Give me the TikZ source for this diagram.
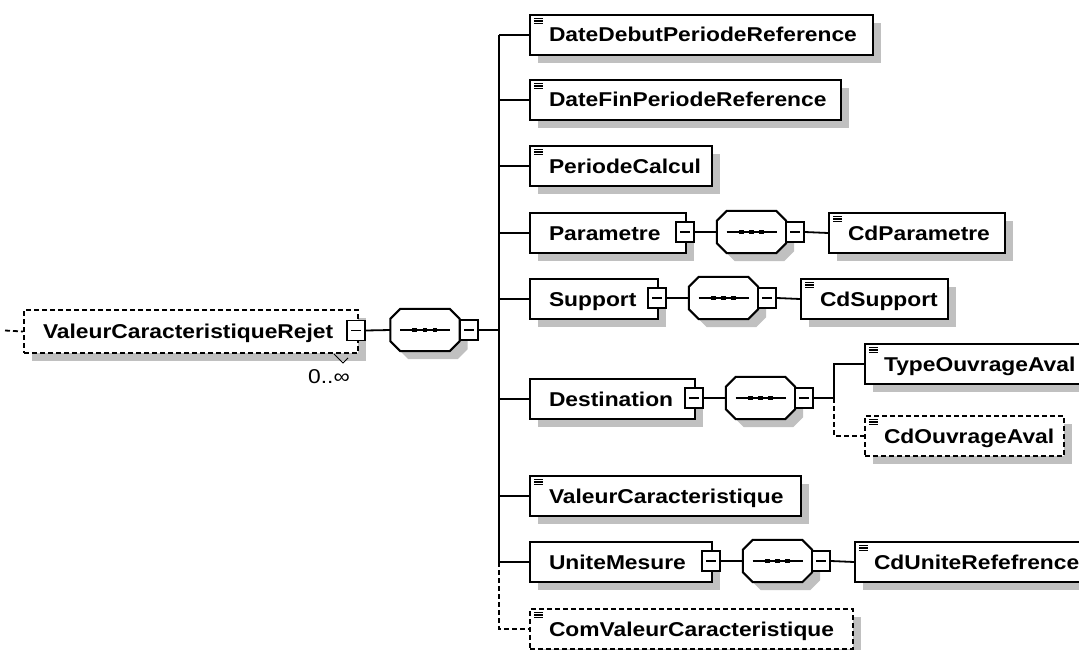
\documentclass[tikz,border=0pt]{standalone}
\usepackage{fontspec}
\newfontfamily\lbl[FakeStretch=1.14]{Liberation Sans}
\usetikzlibrary{shadows}
\definecolor{shadowc}{RGB}{192,192,192}
\newcommand\seqoct[1]{%
  \draw[shad,line width=2pt,fill=white]
    ([xshift=10pt]#1.north west) -- ([xshift=-10pt]#1.north east)
    -- ([yshift=-10pt]#1.north east) -- ([yshift=10pt]#1.south east)
    -- ([xshift=-10pt]#1.south east) -- ([xshift=10pt]#1.south west)
    -- ([yshift=10pt]#1.south west) -- ([yshift=-10pt]#1.north west) -- cycle;
  \pic at (#1.center) {seqdots};}
\begin{document}
\begin{tikzpicture}[x=1pt,y=-1pt,line join=miter,
  shad/.style={drop shadow={shadow xshift=8pt,shadow yshift=-8pt,fill=shadowc,opacity=1}},
  elem/.style={draw,line width=2pt,fill=white,rectangle,anchor=north west,
    inner xsep=19pt,inner ysep=0pt,minimum height=40pt,text width=#1,align=left,
    font={\lbl\bfseries\fontsize{20}{24}\selectfont},text height=14pt,text depth=0pt,shad},
  docicon/.style={path picture={
    \foreach \dy in {3.5,6,8.5}
      \draw[solid,line width=1.2pt] ([xshift=4pt,yshift=-\dy pt]path picture bounding box.north west) -- ++(9,0);}},
  opt/.style={dash pattern=on 5pt off 3pt},
  minusbox/.style={draw,line width=1.8pt,fill=white,rectangle,minimum width=18pt,
    minimum height=20pt,inner sep=0pt,
    path picture={\draw[solid,line width=1.6pt] ([xshift=4pt]path picture bounding box.west) -- ([xshift=-4pt]path picture bounding box.east);}},
  seqbox/.style={rectangle,minimum width=69pt,minimum height=42pt,inner sep=0pt},
  conn/.style={line width=1.8pt},
  seqdots/.pic={
    \draw[line width=1.8pt] (-25,0) -- (25,0);
    \foreach \dx in {-10.3,0,10} \fill (\dx-2.4,-2.4) rectangle ++(4.8,4.8);}
]
\fill[white] (0,0) rectangle (1079,650);
\useasboundingbox (0,0) rectangle (1079,650);

% root
\coordinate (rootstub) at (5,330.5);
\node[elem=296,minimum height=43pt,opt] (root) at (23,309) {ValeurCaracteristiqueRejet};
\node[minusbox] (rm) at (356,330.5) {};
\node[font={\lbl\fontsize{20}{24}\selectfont},anchor=base] (mult) at (329,383) {0..∞};
\draw[line width=1pt] (root.south east) ++(-25,0) coordinate (mt1) -- ++(9,9) coordinate (mt2) -- ++(5,-5);
\node[seqbox] (rs) at (425,330) {};
\seqoct{rs}
\node[minusbox] (rsm) at (469,330) {};
\coordinate (bus) at (499,330);

% children
\node[elem=305,docicon] (dd) at (529,14) {DateDebutPeriodeReference};
\node[elem=273,docicon] (df) at (529,79) {DateFinPeriodeReference};
\node[elem=144,docicon] (pc) at (529,145) {PeriodeCalcul};
\node[elem=118] (par) at (529,212) {Parametre};
\node[elem=90] (sup) at (529,278) {Support};
\node[elem=127] (dest) at (529,378) {Destination};
\node[elem=233,docicon] (vc) at (529,475) {ValeurCaracteristique};
\node[elem=144] (um) at (529,541) {UniteMesure};
\node[elem=285,docicon,opt] (cvc) at (529,608) {ComValeurCaracteristique};

% Parametre
\node[minusbox] (parm) at (685,232) {};
\node[seqbox] (pars) at (751.5,232) {};
\seqoct{pars}
\node[minusbox] (parsm) at (795,232) {};
\node[elem=138,docicon] (cdpar) at (828,212) {CdParametre};

% Support
\node[minusbox] (supm) at (657,298) {};
\node[seqbox] (sups) at (723.5,298) {};
\seqoct{sups}
\node[minusbox] (supsm) at (767,298) {};
\node[elem=109,docicon] (cdsup) at (800,278) {CdSupport};

% Destination
\node[minusbox] (destm) at (694,398) {};
\node[seqbox] (dests) at (760.5,398) {};
\seqoct{dests}
\node[minusbox] (destsm) at (804,398) {};
\coordinate (dbus) at (834,398);
\node[elem=192,docicon] (tov) at (864,343) {TypeOuvrageAval};
\node[elem=161,docicon,opt] (cdov) at (864,415) {CdOuvrageAval};

% UniteMesure
\node[minusbox] (umm) at (711,561) {};
\node[seqbox] (ums) at (777.5,561) {};
\seqoct{ums}
\node[minusbox] (umsm) at (821,561) {};
\node[elem=202,docicon] (cdum) at (854,541) {CdUniteRefefrence};

% connectors
\draw[conn,opt] (rootstub) -- (root.west);
\draw[conn] (rm.east) -- (rs.west);
\draw[conn] (rsm.east) -- (bus);
\draw[conn] (dd.west -| bus) -- (um.west -| bus);
\draw[conn,opt] (um.west -| bus) |- (cvc.west);
\foreach \n in {dd,df,pc,par,sup,dest,vc,um}
  \draw[conn] (\n.west -| bus) -- (\n.west);
\draw[conn] (parm.east) -- (pars.west);
\draw[conn] (parsm.east) -- (cdpar.west);
\draw[conn] (supm.east) -- (sups.west);
\draw[conn] (supsm.east) -- (cdsup.west);
\draw[conn] (destm.east) -- (dests.west);
\draw[conn] (destsm.east) -- (dbus) |- (tov.west);
\draw[conn,opt] (dbus) |- (cdov.west);
\draw[conn] (umm.east) -- (ums.west);
\draw[conn] (umsm.east) -- (cdum.west);
\end{tikzpicture}
\end{document}
